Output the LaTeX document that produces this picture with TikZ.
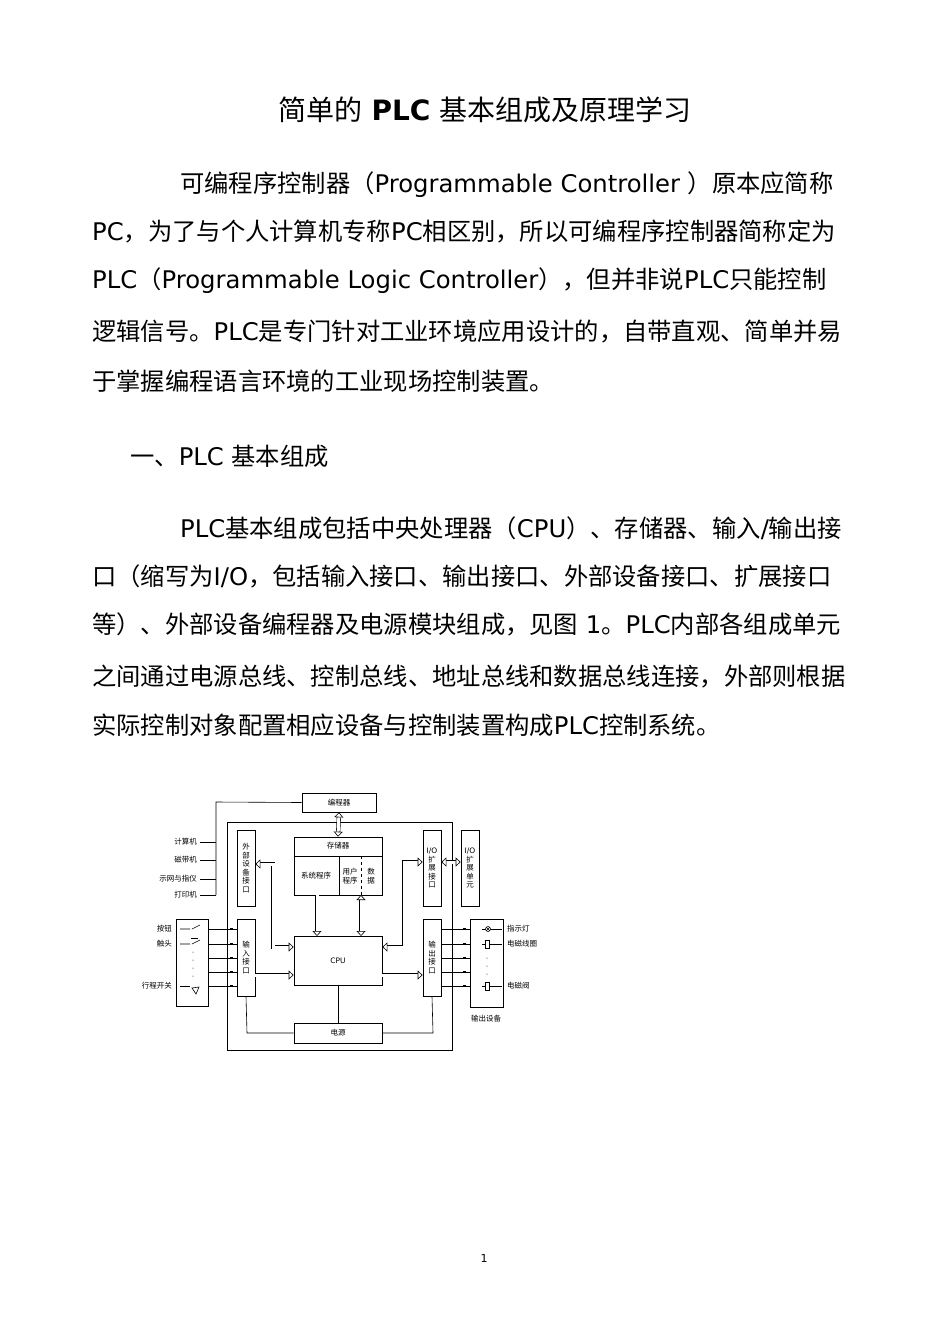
\documentclass[tikz,border=0pt]{standalone}
\usepackage{fontspec}
\setmainfont{DejaVu Sans}
\newfontfamily\cjkf{Noto Sans CJK SC}
\newfontfamily\latf{DejaVu Sans}
\XeTeXinterchartokenstate=1
\newXeTeXintercharclass\cjkclass
\newcount\cc
\cc="4E00 \loop \XeTeXcharclass\cc=\cjkclass \advance\cc by 1 \ifnum\cc<"9FFF \repeat
\cc="3000 \loop \XeTeXcharclass\cc=\cjkclass \advance\cc by 1 \ifnum\cc<"3040 \repeat
\cc="FF00 \loop \XeTeXcharclass\cc=\cjkclass \advance\cc by 1 \ifnum\cc<"FFF0 \repeat
\XeTeXinterchartoks 0 \cjkclass = {\cjkf}
\XeTeXinterchartoks 4095 \cjkclass = {\cjkf}
\XeTeXinterchartoks \cjkclass 0 = {\latf}
\XeTeXinterchartoks \cjkclass 4095 = {\latf}
\usetikzlibrary{arrows.meta}
\tikzset{
 txt/.style={anchor=base west,inner sep=0pt,font=\fontsize{24.3}{28}\selectfont},
 bx/.style={draw,line width=0.7pt,inner sep=0pt},
 sm/.style={font=\fontsize{7.5}{8.5}\selectfont,inner sep=0pt},
 dbl/.style={double,double distance=3pt,line width=0.6pt},
 ha/.style={-{Triangle[fill=white,width=9pt,length=5pt,line width=0.6pt]}},
 hb/.style={{Triangle[fill=white,width=9pt,length=5pt,line width=0.6pt]}-{Triangle[fill=white,width=9pt,length=5pt,line width=0.6pt]}},
 ln/.style={line width=0.6pt}
}
\begin{document}
\begin{tikzpicture}[x=1pt,y=-1pt]
\useasboundingbox (0,0) rectangle (950,1344);
% text
\node[anchor=base,inner sep=0pt,font=\fontsize{28}{32}\selectfont] (title) at (485,120) {简单的 \textbf{PLC} 基本组成及原理学习};
\node[txt] (l1) at (180,192) {可编程序控制器（Programmable Controller ）原本应简称};
\node[txt] (l2) at (92,240) {PC，为了与个人计算机专称PC相区别，所以可编程序控制器简称定为};
\node[txt] (l3) at (92,288) {PLC（Programmable Logic Controller），但并非说PLC只能控制};
\node[txt] (l4) at (92,340) {逻辑信号。PLC是专门针对工业环境应用设计的，自带直观、简单并易};
\node[txt] (l5) at (92,390) {于掌握编程语言环境的工业现场控制装置。};
\node[txt] (l6) at (130,465) {一、PLC 基本组成};
\node[txt] (l7) at (180,537) {PLC基本组成包括中央处理器（CPU）、存储器、输入/输出接};
\node[txt] (l8) at (92,585) {口（缩写为I/O，包括输入接口、输出接口、外部设备接口、扩展接口};
\node[txt] (l9) at (92,633) {等）、外部设备编程器及电源模块组成，见图 1。PLC内部各组成单元};
\node[txt] (l10) at (92,685) {之间通过电源总线、控制总线、地址总线和数据总线连接，外部则根据};
\node[txt] (l11) at (92,734) {实际控制对象配置相应设备与控制装置构成PLC控制系统。};
\node[inner sep=0pt,font=\fontsize{11}{12}\selectfont] (pg) at (484,1258) {1};
% diagram boxes
\draw[ln] (227,822) rectangle (452,1050);
\node[bx,minimum width=74pt,minimum height=19pt,sm] (prog) at (339,802.5) {编程器};
\node[bx,minimum width=18pt,minimum height=76pt,sm,align=center] (ext) at (246,868) {外\\部\\设\\备\\接\\口};
\node[bx,minimum width=88pt,minimum height=58pt] (mem) at (338,866) {};
\draw[ln] (mem.west|-0,856) -- (mem.east|-0,856);
\draw[ln] (339,856) -- (339,895);
\draw[ln,dashed] (361,856) -- (361,895);
\node[sm] (memt) at (338,846) {存储器};
\node[sm] (sys) at (316,876) {系统程序};
\node[sm,align=center] (usr) at (350,876) {用户\\程序};
\node[sm,align=center] (dat) at (371,876) {数\\据};
\node[bx,minimum width=18pt,minimum height=76pt,sm,align=center] (ioe) at (432,868) {I/O\\扩\\展\\接\\口};
\node[bx,minimum width=18pt,minimum height=76pt,sm,align=center] (iou) at (470,868) {I/O\\扩\\展\\单\\元};
\node[bx,minimum width=32pt,minimum height=87pt] (inb) at (192,962.5) {};
\node[bx,minimum width=18pt,minimum height=77pt,sm,align=center] (inp) at (246,957.5) {输\\入\\接\\口};
\node[bx,minimum width=88pt,minimum height=49pt,sm] (cpu) at (338,960.5) {CPU};
\node[bx,minimum width=18pt,minimum height=77pt,sm,align=center] (outp) at (432,957.5) {输\\出\\接\\口};
\node[bx,minimum width=33pt,minimum height=88pt] (outb) at (486.5,963) {};
\node[bx,minimum width=88pt,minimum height=20pt,sm] (pwr) at (338,1033) {电源};
% peripheral line
\draw[ln] (prog.west) -- (216,802) -- (216,895);
\foreach \yy/\tt in {842/计算机,860/磁带机,879/示网与指仪,895/打印机}{
 \draw[ln] (200,\yy) -- (216,\yy);
 \node[sm,anchor=east] at (197,\yy) {\tt};
}
% arrows
\draw[dbl,hb] (prog.south) -- (mem.north);
\draw[dbl,hb] (ext.east|-0,864) -- (273,864) -- (273,947) -- (cpu.west|-0,947);
\draw[dbl,hb] (ioe.west|-0,862) -- (404,862) -- (404,947) -- (cpu.east|-0,947);
\draw[dbl,hb] (ioe.east|-0,862) -- (iou.west|-0,862);
\draw[dbl,ha] (317,895) -- (317,936);
\draw[dbl,hb] (361,895) -- (361,936);
\draw[dbl,ha] (inp.east|-0,975) -- (cpu.west|-0,975);
\draw[dbl,ha] (cpu.east|-0,975) -- (outp.west|-0,975);
% power
\draw[ln] (cpu.south) -- (pwr.north);
\draw[ln] (pwr.west) -- (247,1033) -- (inp.south);
\draw[ln] (pwr.east) -- (433,1033) -- (outp.south);
% input lines
\foreach \yy in {929,944,958,972,986}{
 \draw[ln] (208,\yy) -- (237,\yy);
 \draw[line width=1.2pt] (230,\yy) -- (233,\yy);
 \draw[ln] (441,\yy) -- (470,\yy);
 \draw[line width=1.2pt] (463,\yy) -- (466,\yy);
}
\draw[ln] (180,929) -- (190,929) (192,929) -- (200,925);
\draw[ln] (180,944) -- (190,944) (192,944) -- (200,940);
\draw[ln] (191,939) -- (191,938) -- (198,938);
\draw[ln] (180,986) -- (190,986);
\draw[ln] (192,988) -- (196,994) -- (199,987) -- cycle;
\foreach \yy in {952,960,968,976}{\fill (193,\yy) circle (0.5pt);}
\node[sm,anchor=east] at (172,929) {按钮};
\node[sm,anchor=east] at (172,944) {触头};
\node[sm,anchor=east] at (172,986) {行程开关};
% output devices
\draw[ln] (482,929) -- (502,929);
\draw[ln,fill=white] (488,929) circle (2.5pt);
\draw[ln] (486.3,927.3) -- (489.7,930.7) (486.3,930.7) -- (489.7,927.3);
\draw[ln] (482,944) -- (502,944);
\draw[ln,fill=white] (485.5,940) rectangle (489.5,948);
\draw[ln] (482,986) -- (502,986);
\draw[ln,fill=white] (485.5,982) rectangle (489.5,990);
\foreach \yy in {958,966,974}{\fill (487,\yy) circle (0.5pt);}
\node[sm,anchor=west] at (507,929) {指示灯};
\node[sm,anchor=west] at (507,944) {电磁线圈};
\node[sm,anchor=west] at (507,986) {电磁阀};
\node[sm] at (486,1019) {输出设备};
\end{tikzpicture}
\end{document}
